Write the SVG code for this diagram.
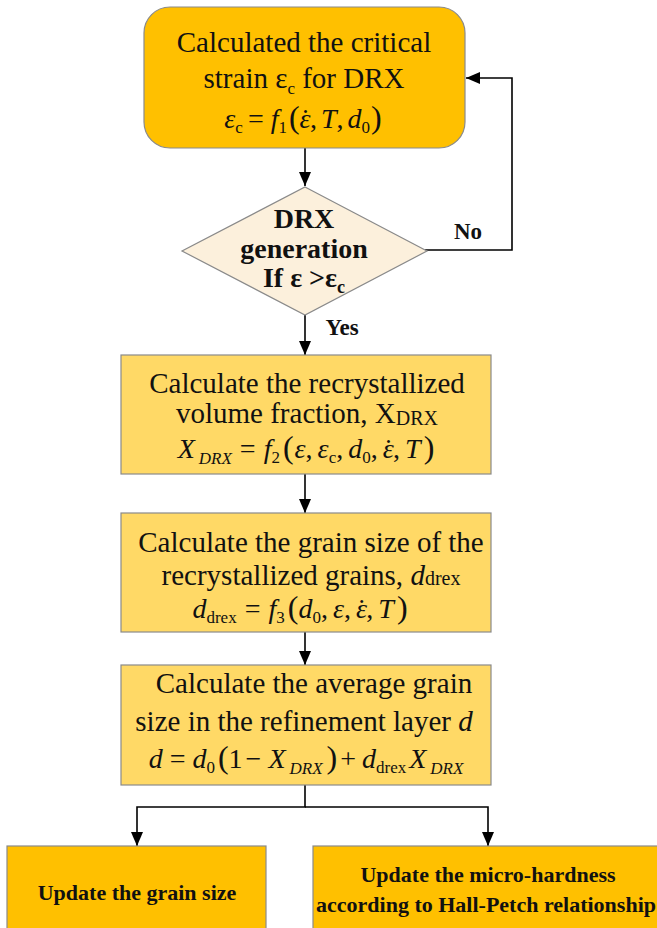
<svg xmlns="http://www.w3.org/2000/svg" width="657" height="928" viewBox="0 0 657 928">
<defs>
<marker id="ah" markerUnits="userSpaceOnUse" markerWidth="14" markerHeight="14" viewBox="0 0 14 14" refX="14" refY="7" orient="auto">
<path d="M0,1 L14,7 L0,13 Z" fill="#000"/>
</marker>
<style>
.t{font-family:"Liberation Serif","Times New Roman",serif;font-size:29px;fill:#111;text-anchor:middle}
.b{font-family:"Liberation Serif","Times New Roman",serif;font-weight:bold;fill:#111;text-anchor:middle}
.f{font-family:"Liberation Serif","Times New Roman",serif;font-size:28px;fill:#111;text-anchor:middle}
.i{font-style:italic}
.s{font-size:17px}
.p{font-size:32px}
.box1{fill:#FFC000;stroke:#8a8a8a;stroke-width:1.2}
.box2{fill:#FFD966;stroke:#8a8a8a;stroke-width:1.2}
.dia{fill:#FCF0DC;stroke:#8a8a8a;stroke-width:1.2}
.c{fill:none;stroke:#000;stroke-width:1.6}
</style>
</defs>
<g id="connectors">
<path class="c" d="M305 148 V186" marker-end="url(#ah)"/>
<path class="c" d="M425 250 H512 V78 H466" marker-end="url(#ah)"/>
<path class="c" d="M305 315 V355" marker-end="url(#ah)"/>
<path class="c" d="M305 474 V513" marker-end="url(#ah)"/>
<path class="c" d="M305 632 V665" marker-end="url(#ah)"/>
<path class="c" d="M305 785 V807 H137 V846" marker-end="url(#ah)"/>
<path class="c" d="M305 807 H488 V846" marker-end="url(#ah)"/>
<text class="b" x="468" y="239" font-size="23">No</text>
<text class="b" x="342" y="335" font-size="23">Yes</text>
</g>
<g id="node-critical">
<rect class="box1" x="144" y="7" width="321" height="141" rx="26"/>
<text class="t" x="304" y="52">Calculated the critical</text>
<text class="t" x="304" y="88">strain ε<tspan class="s" dy="6">c</tspan><tspan dy="-6"> for DRX</tspan></text>
<text class="f" x="303" y="128" font-size="27"><tspan class="i">ε</tspan><tspan class="s" dy="5">c</tspan><tspan dy="-5" dx="5">=</tspan><tspan class="i" dx="7">f</tspan><tspan class="s" dy="5">1</tspan><tspan class="p" dy="-5" dx="2">(</tspan><tspan class="i">ε</tspan><tspan dx="-10">˙</tspan><tspan>,</tspan><tspan class="i" dx="4">T</tspan><tspan>,</tspan><tspan class="i" dx="4">d</tspan><tspan class="s" dy="5">0</tspan><tspan class="p" dy="-5" dx="1">)</tspan></text>
</g>
<g id="node-decision">
<polygon class="dia" points="305,187 427,251 305,315 182,251"/>
<text class="b" x="304" y="228" font-size="28">DRX</text>
<text class="b" x="304" y="258" font-size="28">generation</text>
<text class="b" x="304" y="287" font-size="28">If ε &gt;ε<tspan font-size="18" dy="6">c</tspan></text>
</g>
<g id="node-fraction">
<rect class="box2" x="121" y="355" width="370" height="119"/>
<text class="t" x="307" y="393">Calculate the recrystallized</text>
<text class="t" x="307" y="423">volume fraction, X<tspan font-size="20" dy="2">DRX</tspan></text>
<text class="f" x="306" y="458"><tspan class="i">X</tspan><tspan class="s i" dy="6" dx="4">DRX</tspan><tspan dy="-6" dx="8">=</tspan><tspan class="i" dx="8">f</tspan><tspan class="s" dy="5">2</tspan><tspan class="p" dy="-5" dx="3">(</tspan><tspan class="i" dx="1">ε</tspan><tspan>,</tspan><tspan class="i" dx="5">ε</tspan><tspan class="s" dy="5">c</tspan><tspan dy="-5">,</tspan><tspan class="i" dx="5">d</tspan><tspan class="s" dy="5">0</tspan><tspan dy="-5">,</tspan><tspan class="i" dx="5">ε</tspan><tspan dx="-10">˙</tspan><tspan>,</tspan><tspan class="i" dx="5">T</tspan><tspan class="p" dx="3">)</tspan></text>
</g>
<g id="node-grainsize">
<rect class="box2" x="121" y="513" width="370" height="119"/>
<text class="t" x="311" y="552">Calculate the grain size of the</text>
<text class="t" x="311" y="585">recrystallized grains, <tspan class="i">d</tspan><tspan font-size="20">drex</tspan></text>
<text class="f" x="300" y="618"><tspan class="i">d</tspan><tspan class="s" dy="5">drex</tspan><tspan dy="-5" dx="8">=</tspan><tspan class="i" dx="8">f</tspan><tspan class="s" dy="5">3</tspan><tspan class="p" dy="-5" dx="3">(</tspan><tspan class="i">d</tspan><tspan class="s" dy="5">0</tspan><tspan dy="-5">,</tspan><tspan class="i" dx="5">ε</tspan><tspan>,</tspan><tspan class="i" dx="5">ε</tspan><tspan dx="-10">˙</tspan><tspan>,</tspan><tspan class="i" dx="5">T</tspan><tspan class="p" dx="3">)</tspan></text>
</g>
<g id="node-average">
<rect class="box2" x="121" y="665" width="370" height="120"/>
<text class="t" x="314" y="693">Calculate the average grain</text>
<text class="t" x="304" y="731">size in the refinement layer <tspan class="i">d</tspan></text>
<text class="f" x="306" y="768"><tspan class="i">d</tspan><tspan dx="7">=</tspan><tspan class="i" dx="7">d</tspan><tspan class="s" dy="5">0</tspan><tspan class="p" dy="-5" dx="3">(</tspan><tspan>1</tspan><tspan dx="3">−</tspan><tspan class="i" dx="7">X</tspan><tspan class="s i" dy="6" dx="4">DRX</tspan><tspan class="p" dy="-6" dx="4">)</tspan><tspan dx="3">+</tspan><tspan class="i" dx="6">d</tspan><tspan class="s" dy="5">drex</tspan><tspan class="i" dy="-5" dx="3">X</tspan><tspan class="s i" dy="6" dx="4">DRX</tspan></text>
</g>
<g id="node-update-grain">
<rect class="box1" x="7" y="846" width="259" height="90"/>
<text class="b" x="137" y="900" font-size="22">Update the grain size</text>
</g>
<g id="node-update-hardness">
<rect class="box1" x="313" y="846" width="360" height="90"/>
<text class="b" x="488" y="882" font-size="22">Update the micro-hardness</text>
<text class="b" x="486" y="912" font-size="22">according to Hall-Petch relationship</text>
</g>
</svg>
